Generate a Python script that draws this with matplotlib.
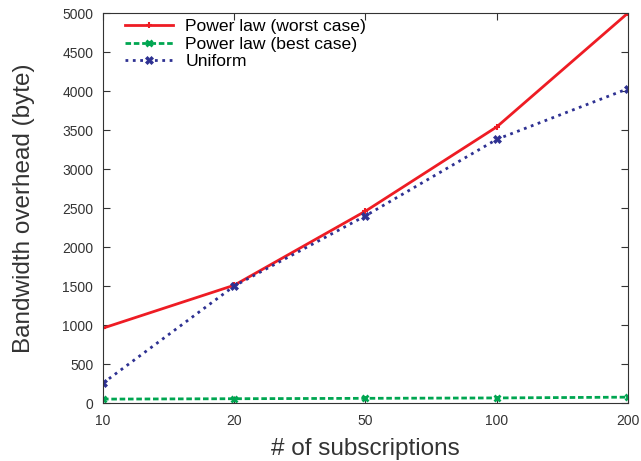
import numpy as np
import matplotlib.pyplot as plt

plt.rcParams['font.family'] = ['Liberation Sans', 'DejaVu Sans']

subscriptions = ['10', '20', '50', '100', '200']
worst_case = [960, 1510, 2460, 3540, 5000]
best_case = [50, 55, 60, 65, 75]
uniform = [255, 1500, 2400, 3380, 4030]

fig = plt.figure(figsize=(6.41, 4.61), dpi=100)
ax = fig.add_axes([0.1607, 0.1258, 0.819, 0.846])

x = np.arange(len(subscriptions))
ax.plot(x, worst_case, '-', color='#ee1c24', linewidth=2, marker='+', markersize=5, mew=1.5,
        label='Power law (worst case)')
ax.plot(x, best_case, '--', color='#00a651', linewidth=2, marker='x', markersize=5, mew=2,
        dashes=(2, 1), label='Power law (best case)')
ax.plot(x, uniform, ':', color='#2e3192', linewidth=2, marker='X', markersize=6, mew=0.5,
        label='Uniform')

ax.set_xlim(0, len(subscriptions) - 1)
ax.set_ylim(0, 5000)
ax.set_xticks(x)
ax.set_xticklabels(subscriptions)
ax.set_yticks(np.arange(0, 5001, 500))
ax.tick_params(direction='in', top=True, right=True, labelsize=10, colors='#333333', length=5)
ax.tick_params(axis='x', pad=8)
ax.tick_params(axis='y', pad=7)
for s in ax.spines.values():
    s.set_color('#333333')

ax.set_xlabel('# of subscriptions', fontsize=17.5, color='#333333')
ax.set_ylabel('Bandwidth overhead (byte)', fontsize=17.5, color='#333333')
ax.xaxis.set_label_coords(0.5, -0.09)
ax.yaxis.set_label_coords(-0.13, 0.5)

ax.legend(loc='upper left', frameon=False, fontsize=12.6, handlelength=2.75,
          borderaxespad=0, borderpad=0, labelspacing=0.12, handletextpad=0.7,
          numpoints=1, bbox_to_anchor=(0.042, 0.984))

fig.savefig('out.png', dpi=100)
